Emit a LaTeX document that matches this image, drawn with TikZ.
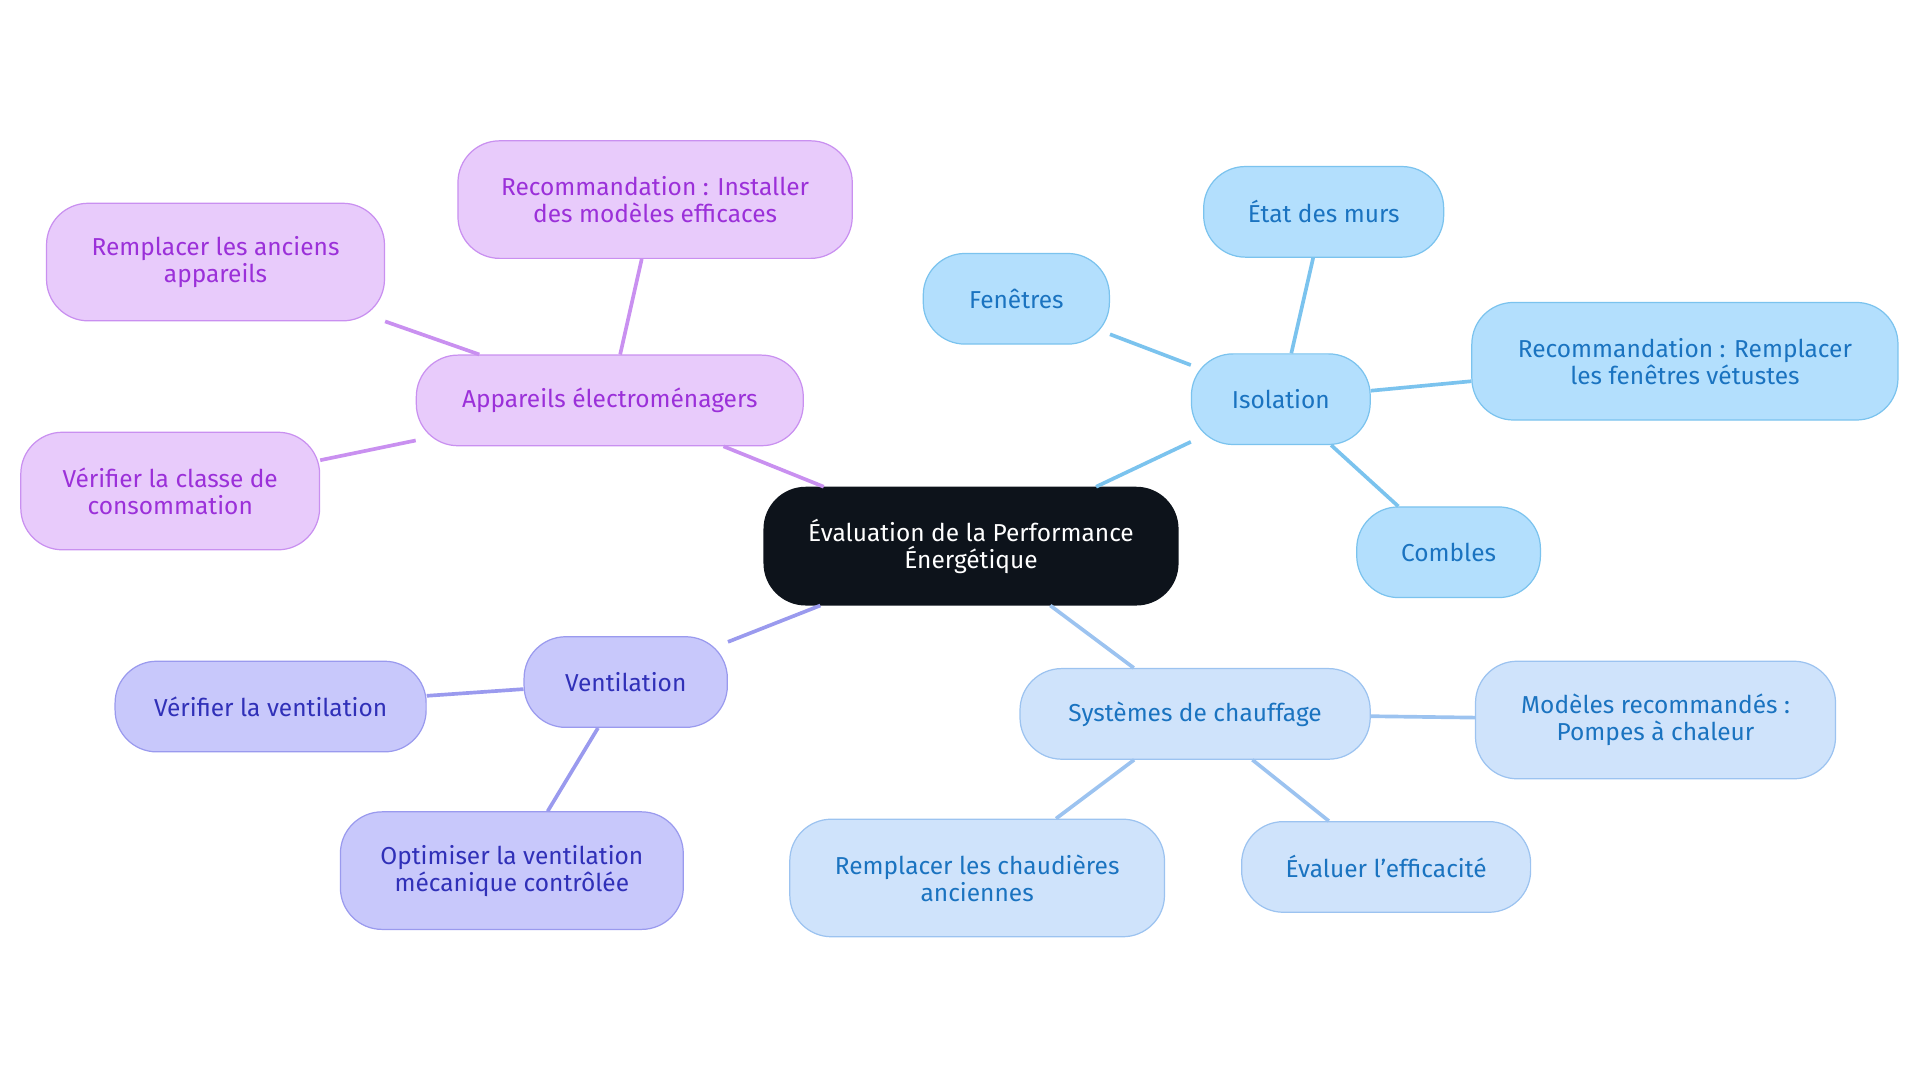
\documentclass[tikz,border=0pt]{standalone}
\usepackage{fontspec}
\setmainfont{Fira Sans}
\definecolor{rootfill}{HTML}{0D131B}
\definecolor{appfill}{HTML}{E8CBFB}
\definecolor{appline}{HTML}{C990F0}
\definecolor{apptext}{HTML}{9B30D9}
\definecolor{isofill}{HTML}{B3DFFD}
\definecolor{isoline}{HTML}{7BC3EE}
\definecolor{bluetext}{HTML}{1A73C0}
\definecolor{chfill}{HTML}{CFE3FB}
\definecolor{chline}{HTML}{9CC3F0}
\definecolor{venfill}{HTML}{C8C8FB}
\definecolor{venline}{HTML}{9A9AEE}
\definecolor{ventext}{HTML}{3030B8}
\tikzset{
  box/.style={rectangle, rounded corners=34pt, line width=1pt, align=center,
    font=\fontsize{20}{22}\selectfont, inner sep=0pt},
  app/.style={box, fill=appfill, draw=appline, text=apptext},
  iso/.style={box, fill=isofill, draw=isoline, text=bluetext},
  chauf/.style={box, fill=chfill, draw=chline, text=bluetext},
  vent/.style={box, fill=venfill, draw=venline, text=ventext},
  link/.style={line width=3pt}
}
\begin{document}
\begin{tikzpicture}[x=1pt,y=-1pt]
    \useasboundingbox (0,0) rectangle (1568,884);
    \node[box, fill=rootfill, draw=rootfill, text=white, minimum width=338pt, minimum height=96pt] (root) at (793,446) {Évaluation de la Performance\\Énergétique};

    \node[app, minimum width=316pt, minimum height=74pt] (appa) at (498,327) {Appareils électroménagers};
    \node[app, minimum width=322pt, minimum height=96pt] (appreco) at (535,163) {Recommandation : Installer\\des modèles efficaces};
    \node[app, minimum width=276pt, minimum height=96pt] (apprempl) at (176,214) {Remplacer les anciens\\appareils};
    \node[app, minimum width=244pt, minimum height=96pt] (appclasse) at (139,401) {Vérifier la classe de\\consommation};

    \node[iso, minimum width=146pt, minimum height=74pt] (iso) at (1046,326) {Isolation};
    \node[iso, minimum width=196pt, minimum height=74pt] (isomurs) at (1081,173) {État des murs};
    \node[iso, minimum width=152pt, minimum height=74pt] (isofen) at (830,244) {Fenêtres};
    \node[iso, minimum width=348pt, minimum height=96pt] (isoreco) at (1376,295) {Recommandation : Remplacer\\les fenêtres vétustes};
    \node[iso, minimum width=150pt, minimum height=74pt] (isocomb) at (1183,451) {Combles};

    \node[chauf, minimum width=286pt, minimum height=74pt] (ch) at (976,583) {Systèmes de chauffage};
    \node[chauf, minimum width=294pt, minimum height=96pt] (chmod) at (1352,588) {Modèles recommandés :\\Pompes à chaleur};
    \node[chauf, minimum width=306pt, minimum height=96pt] (chrempl) at (798,717) {Remplacer les chaudières\\anciennes};
    \node[chauf, minimum width=236pt, minimum height=74pt] (cheval) at (1132,708) {Évaluer l'efficacité};

    \node[vent, minimum width=166pt, minimum height=74pt] (ven) at (511,557) {Ventilation};
    \node[vent, minimum width=254pt, minimum height=74pt] (venverif) at (221,577) {Vérifier la ventilation};
    \node[vent, minimum width=280pt, minimum height=96pt] (venopt) at (418,711) {Optimiser la ventilation\\mécanique contrôlée};

    % Branches
    \begin{scope}[on background layer/.style={}]
    \draw[link, appline] (root) -- (appa);
    \draw[link, appline] (appa) -- (appreco);
    \draw[link, appline] (appa) -- (apprempl);
    \draw[link, appline] (appa) -- (appclasse);
    \draw[link, isoline] (root) -- (iso);
    \draw[link, isoline] (iso) -- (isomurs);
    \draw[link, isoline] (iso) -- (isofen);
    \draw[link, isoline] (iso) -- (isoreco);
    \draw[link, isoline] (iso) -- (isocomb);
    \draw[link, chline] (root) -- (ch);
    \draw[link, chline] (ch) -- (chmod);
    \draw[link, chline] (ch) -- (chrempl);
    \draw[link, chline] (ch) -- (cheval);
    \draw[link, venline] (root) -- (ven);
    \draw[link, venline] (ven) -- (venverif);
    \draw[link, venline] (ven) -- (venopt);
    \end{scope}
\end{tikzpicture}
\end{document}
